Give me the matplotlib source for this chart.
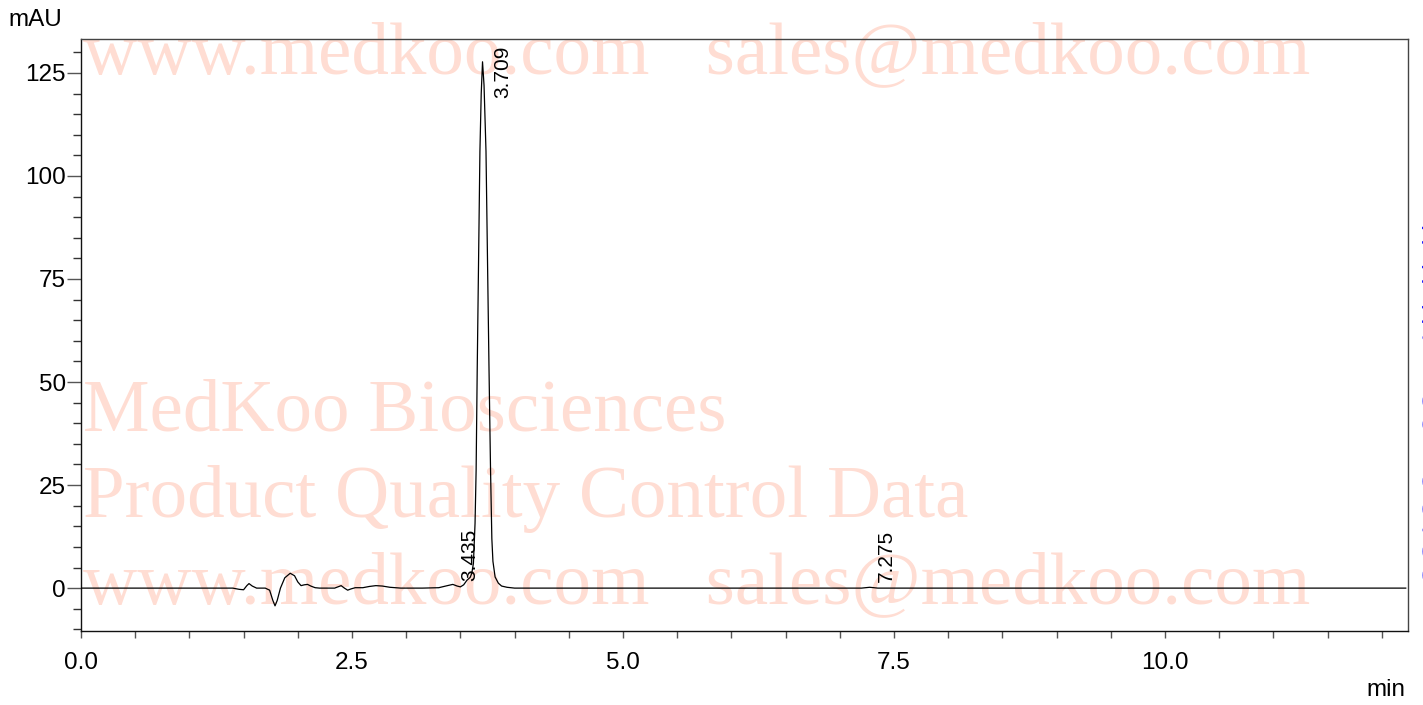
import matplotlib
matplotlib.use("Agg")
import matplotlib.pyplot as plt
from matplotlib.ticker import MultipleLocator, FixedLocator

# chromatogram trace (min, mAU)
time_min = [0.00, 1.40, 1.46, 1.50, 1.53, 1.55, 1.58, 1.62, 1.70, 1.74,
            1.77, 1.79, 1.81, 1.84, 1.88, 1.93, 1.97, 2.00, 2.03, 2.06,
            2.09, 2.12, 2.16, 2.20, 2.34, 2.38, 2.40, 2.43, 2.46, 2.49,
            2.53, 2.60, 2.66, 2.72, 2.78, 2.85, 2.95, 3.15, 3.30, 3.38,
            3.43, 3.47, 3.50, 3.53, 3.56, 3.59, 3.605, 3.62, 3.635, 3.645,
            3.655, 3.68, 3.692, 3.704, 3.718, 3.736, 3.764, 3.778, 3.79, 3.80,
            3.82, 3.85, 3.88, 3.93, 4.00, 7.20, 7.275, 7.35, 12.22]
signal_mau = [0.0, 0.0, -0.3, -0.4, 0.6, 1.1, 0.5, 0.0, 0.0, -0.5,
              -3.0, -4.3, -3.0, 0.0, 2.5, 3.6, 3.0, 1.5, 0.6, 0.8,
              0.9, 0.5, 0.1, 0.0, 0.0, 0.4, 0.6, 0.0, -0.5, -0.2,
              0.1, 0.1, 0.4, 0.6, 0.5, 0.2, 0.0, 0.0, 0.1, 0.6,
              0.9, 0.5, 0.3, 0.8, 1.9, 2.6, 3.6, 6.0, 15.7, 28.6,
              52.9, 106.0, 120.0, 127.7, 122.0, 106.0, 52.9, 28.6, 12.0, 6.5,
              2.7, 1.2, 0.5, 0.2, 0.0, 0.0, 0.2, 0.0, 0.0]

# peak labels: retention time and where the label sits
peak_rt = [3.435, 3.709, 7.275]
peak_label_x = [3.59, 3.89, 7.43]
peak_label_y = [1.8, 119.0, 1.5]

wm_color = "#ffddd3"

fig = plt.figure(figsize=(14.23, 7.05), dpi=100)
ax = fig.add_axes([0.0569, 0.105, 0.9325, 0.8395])
ax.patch.set_visible(False)  # so the watermark shows through from behind

ax.plot(time_min, signal_mau, color="black", lw=0.9, zorder=3)

ax.set_xlim(0, 12.24)
ax.set_ylim(-10.4, 133.2)
ax.xaxis.set_major_locator(FixedLocator([0, 2.5, 5.0, 7.5, 10.0]))
ax.xaxis.set_minor_locator(MultipleLocator(0.5))
ax.yaxis.set_major_locator(MultipleLocator(25))
ax.yaxis.set_minor_locator(MultipleLocator(5))
ax.set_xticklabels(["0.0", "2.5", "5.0", "7.5", "10.0"])

ax.tick_params(axis="x", which="both", direction="out", length=5,
               width=1, color="#555555", pad=10, labelsize=17.5)
ax.tick_params(axis="y", which="major", direction="out", length=10,
               width=1, color="#555555", pad=1, labelsize=17.5)
ax.tick_params(axis="y", which="minor", direction="out", length=5.5,
               width=1, color="#333333")
for lab in ax.get_xticklabels() + ax.get_yticklabels():
    lab.set_fontfamily("Liberation Sans")

for side in ["left", "bottom"]:
    ax.spines[side].set_color("#111111")
for side in ["top", "right"]:
    ax.spines[side].set_color("#444444")
for sp in ax.spines.values():
    sp.set_linewidth(1.0)

fig.text(0.006, 0.972, "mAU", fontsize=17.5, family="Liberation Sans",
         ha="left", va="center")
fig.text(0.988, 0.021, "min", fontsize=17.5, family="Liberation Sans",
         ha="right", va="center")

for rt, lx, ly in zip(peak_rt, peak_label_x, peak_label_y):
    ax.text(lx, ly, f"{rt:.3f}", rotation=90, fontsize=15,
            family="Liberation Sans", ha="center", va="bottom", zorder=4)

# watermark, behind the axes
wm_kw = dict(family="Liberation Serif", color=wm_color, zorder=-1,
             ha="left", va="baseline")
fig.text(0.058, 0.896, "www.medkoo.com   sales@medkoo.com", fontsize=54, **wm_kw)
fig.text(0.058, 0.145, "www.medkoo.com   sales@medkoo.com", fontsize=54, **wm_kw)
fig.text(0.058, 0.390, "MedKoo Biosciences", fontsize=54, **wm_kw)
fig.text(0.058, 0.267, "Product Quality Control Data", fontsize=54, **wm_kw)

# clipped blue text at the right edge
fig.text(0.9905, 0.40, "www.medkoo.com", rotation=270, fontsize=40,
         family="Liberation Serif", color="#1a1aff", ha="left", va="center")

fig.savefig("out.png", dpi=100)
